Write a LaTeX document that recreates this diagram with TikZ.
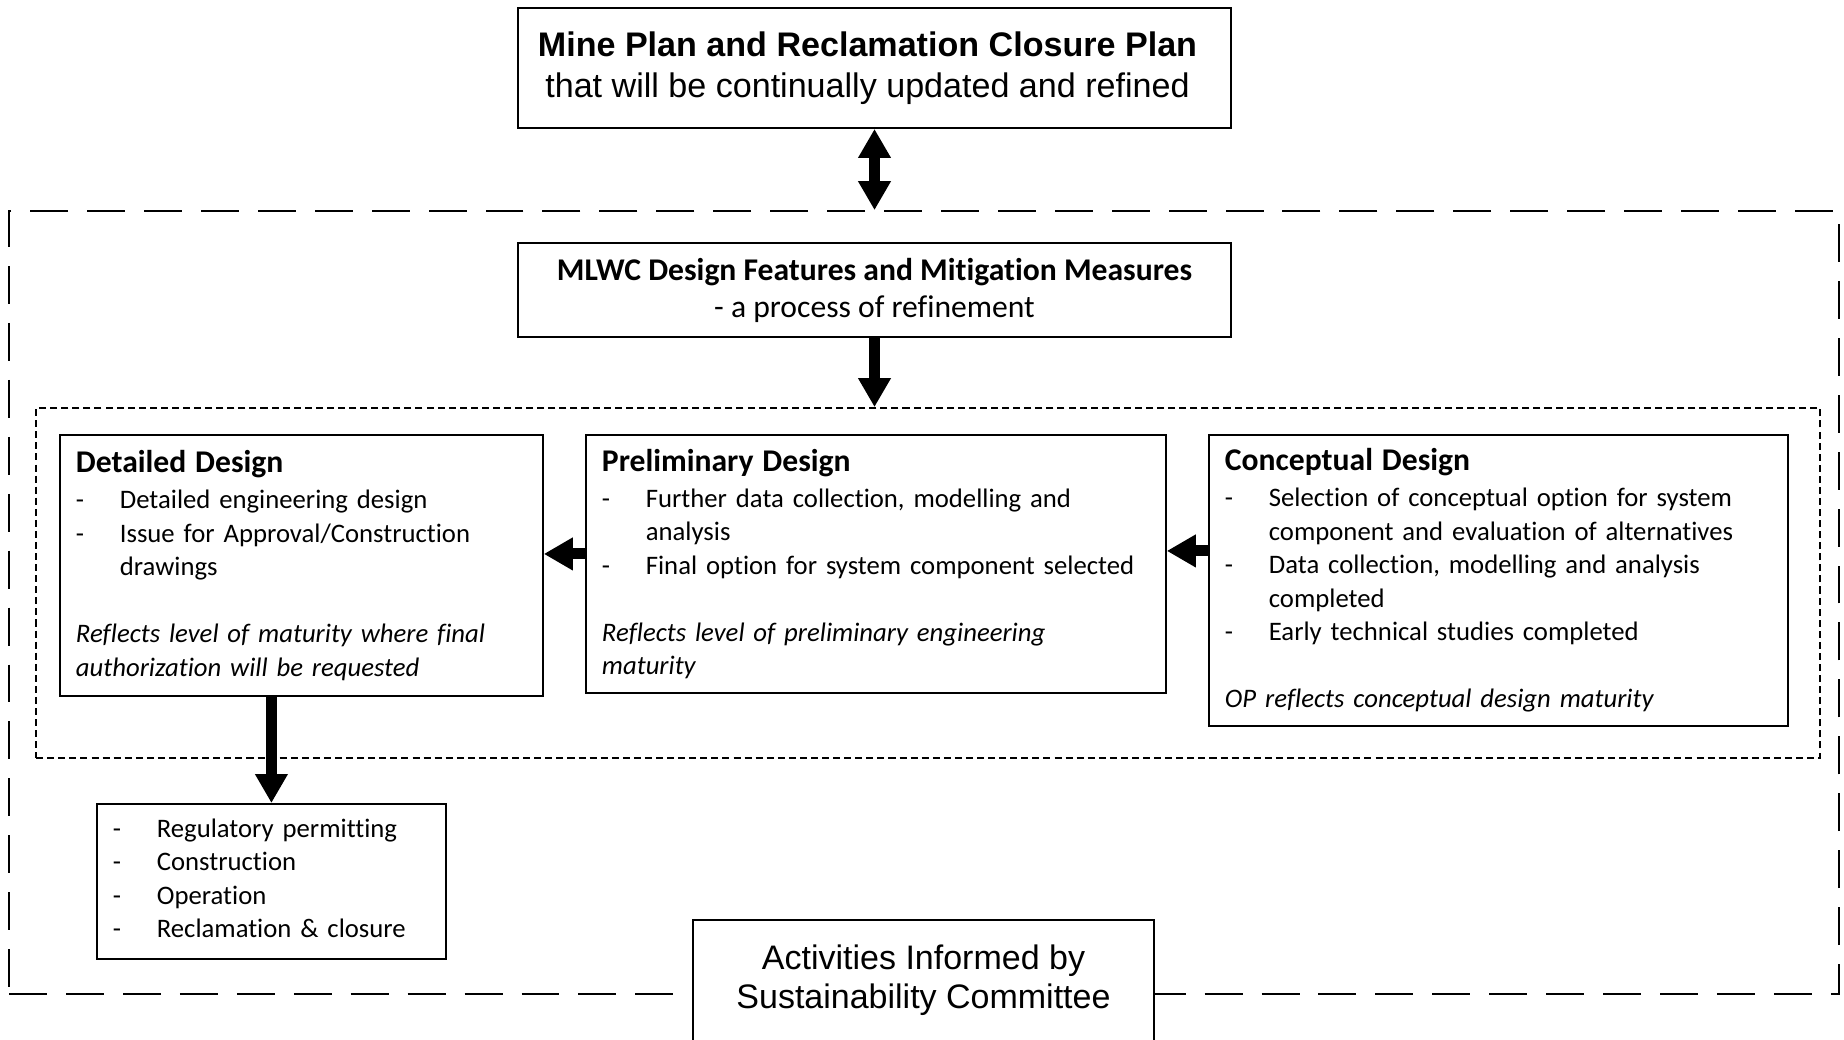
\documentclass[tikz,border=0pt]{standalone}
\usepackage{fontspec}
\setmainfont{Carlito}[Ligatures=NoCommon]
\newfontfamily\arialfont{Liberation Sans}
\usetikzlibrary{arrows.meta}

\newcommand{\dashitem}[1]{\par\hangindent=25pt\hangafter=1\noindent\makebox[25pt][l]{-}#1}
\newcommand{\boxhead}[1]{{\fontsize{18pt}{20.5pt}\selectfont\bfseries #1\par}\vspace{1.4pt}}
\newcommand{\boxnote}[1]{\par\vspace{19.06pt}\noindent\textit{#1}}

\tikzset{bigtip/.tip={Triangle[length=16.5pt,width=17.6pt]}}

\begin{document}
\begin{tikzpicture}[x=0.02cm,y=-0.02cm,
  box/.style={draw,line width=1.1pt,fill=white,inner sep=0pt},
  stagebox/.style={box,anchor=north west,inner xsep=9.1pt,align=left,
    font=\fontsize{15.2pt}{19.06pt}\selectfont},
  bigarrow/.style={line width=6.3pt,-bigtip},
  ]
  \clip (0,0) rectangle (1844,1039);

  % plan on top
  \node[box,minimum width=14.26cm,minimum height=2.4cm,align=center,
    font=\arialfont\fontsize{19.4pt}{23.3pt}\selectfont] (plan) at (874.5,68)
    {\textbf{Mine Plan and Reclamation Closure Plan}\hspace*{8pt}\\that will be continually updated and refined\hspace*{8pt}};

  % dashed outline
  \node[draw,line width=1.1pt,dash pattern=on 21.6pt off 10.8pt,inner sep=0pt,
    minimum width=36.6cm,minimum height=15.66cm] (outer) at (924,602.5) {};

  % design features
  \node[box,minimum width=14.26cm,minimum height=1.88cm,align=center,
    font=\fontsize{18pt}{21.1pt}\selectfont] (mlwc) at (874.5,290)
    {\textbf{MLWC Design Features and Mitigation Measures}\\- a process of refinement};

  % stages
  \node[draw,line width=1.1pt,dash pattern=on 4pt off 2.3pt,inner sep=0pt,
    minimum width=35.68cm,minimum height=7cm] (stages) at (928,583) {};

  \node[stagebox,text width=9.02cm,minimum height=5.22cm] (detail) at (59,434) {%
    \boxhead{Detailed Design}
    \dashitem{Detailed engineering design}
    \dashitem{Issue for Approval/Construction\newline drawings}
    \boxnote{Reflects level of maturity where final\newline authorization will be requested}};
  \node[stagebox,text width=10.96cm,minimum height=5.16cm] (prelim) at (585,434) {%
    \boxhead{Preliminary Design}
    \dashitem{Further data collection, modelling and\newline analysis}
    \dashitem{Final option for system component selected}
    \boxnote{Reflects level of preliminary engineering\newline maturity}};
  \node[stagebox,text width=10.94cm,minimum height=5.82cm] (concept) at (1208,434) {%
    \boxhead{Conceptual Design}
    \dashitem{Selection of conceptual option for system\newline component and evaluation of alternatives}
    \dashitem{Data collection, modelling and analysis\newline completed}
    \dashitem{Early technical studies completed}
    \boxnote{OP reflects conceptual design maturity}};

  % activities
  \node[stagebox,text width=6.34cm,minimum height=3.08cm] (act) at (96,803) {%
    \dashitem{Regulatory permitting}
    \dashitem{Construction}
    \dashitem{Operation}
    \dashitem{Reclamation \& closure}\par\nointerlineskip\noindent\rule{0pt}{12pt}};

  \node[box,anchor=north,minimum width=9.22cm,minimum height=2.42cm,align=center,
    font=\arialfont\fontsize{19.35pt}{22.2pt}\selectfont] (sust) at (923.5,919)
    {Activities Informed by\\Sustainability Committee};

  % arrows
  \draw[bigarrow,bigtip-bigtip] (plan.south) -- (plan.south |- outer.north);
  \draw[bigarrow] (mlwc.south) -- (mlwc.south |- stages.north);
  \draw[bigarrow] ([yshift=16.8pt]concept.west) -- ([yshift=16.8pt]concept.west -| prelim.east);
  \draw[bigarrow] ([yshift=5.7pt]prelim.west) -- ([yshift=5.7pt]prelim.west -| detail.east);
  \draw[bigarrow] (detail.south -| act.north) -- (act.north);
\end{tikzpicture}
\end{document}
